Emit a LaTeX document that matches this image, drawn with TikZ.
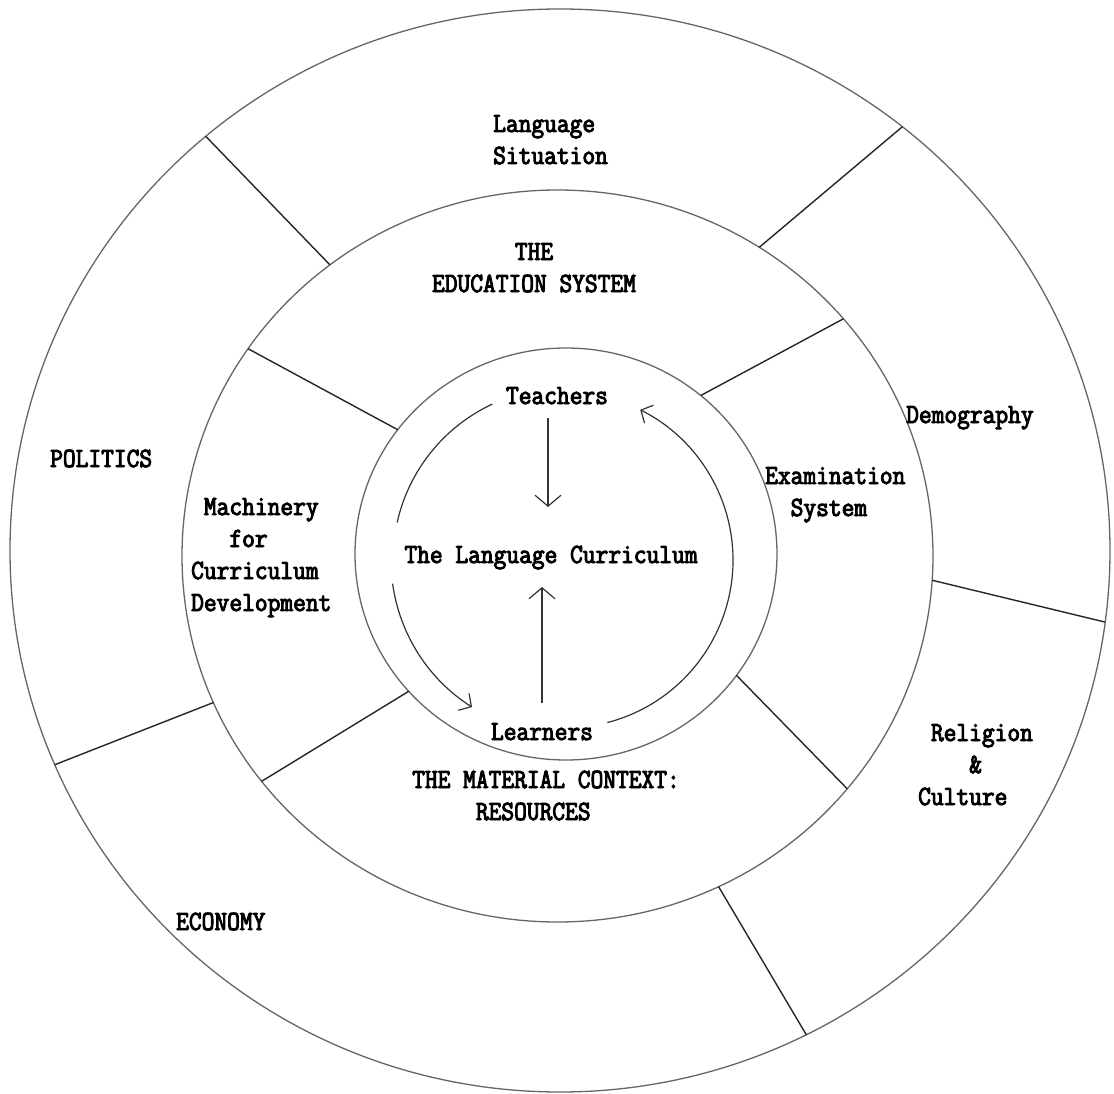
\documentclass[tikz,border=0pt]{standalone}
\usepackage{fontspec}
\usetikzlibrary{calc,arrows.meta}
\newfontfamily\typewriter[FakeStretch=0.89, FakeBold=3.5]{Latin Modern Mono}
\newcommand{\ind}[1]{\hphantom{#1}}
\begin{document}
\begin{tikzpicture}[x=1pt,y=-1pt,
  ring/.style={draw=black!60, line width=1.3pt},
  divider/.style={draw=black!85, line width=1.4pt},
  flow/.style={draw=black!80, line width=1.2pt, -{Straight Barb[length=11pt,width=26pt]}},
  curve/.style={draw=black!80, line width=1.2pt},
  curvetip/.style={curve, -{Straight Barb[length=9pt,width=20pt]}},
  txt/.style={inner sep=0pt, font=\typewriter\fontsize{27.8}{32}\selectfont}]

\fill[white] (0,0) rectangle (1114,1094);
\useasboundingbox (0,0) rectangle (1114,1094);

% centres of the three rings and of the inner cycle
\coordinate (Co) at (560,550.5);
\coordinate (Cm) at (557.5,556);
\coordinate (Ci) at (566,554);
\coordinate (Cc) at (565,560);

% rings
\draw[ring] (Co) ellipse [x radius=550, y radius=541.5];
\draw[ring] (Cm) ellipse [x radius=375.5, y radius=366];
\draw[ring] (Ci) ellipse [x radius=211, y radius=206];

% outer ring sectors
\foreach \a/\b in {229.9/232.7, 308.5/302.5, 7.6/3.8, 63.4/64.6, 156.7/156.4}
  \draw[divider] ($(Co)+(\a:550 and 541.5)$) -- ($(Cm)+(\b:375.5 and 366)$);
% middle ring sectors
\foreach \a/\b in {214.5/217.1, 319.6/309.7, 39.5/36.1, 142/138.2}
  \draw[divider] ($(Cm)+(\a:375.5 and 366)$) -- ($(Ci)+(\b:211 and 206)$);

% texts (multi-line nodes are anchored at the baseline of their last line)
\node[txt, anchor=base west, align=left] (langsit) at (493,164) {Language\\Situation};
\node[txt, anchor=base, align=center] (edusys) at (534,292) {THE\\EDUCATION SYSTEM};
\node[txt, anchor=base] (teachers) at (557,404) {Teachers};
\node[txt, anchor=base] (curric) at (551,563) {The Language Curriculum};
\node[txt, anchor=base] (learners) at (542,740) {Learners};
\node[txt, anchor=base west, align=left] (material) at (412,820) {THE MATERIAL CONTEXT:\\\ind{MMMMM}RESOURCES};
\node[txt, anchor=base west] (politics) at (50,467) {POLITICS};
\node[txt, anchor=base west, align=left] (machinery) at (191,611) {\ind{M}Machinery\\\ind{MMM}for\\Curriculum\\Development};
\node[txt, anchor=base west, align=left] (exam) at (765,516) {Examination\\\ind{MM}System};
\node[txt, anchor=base west] (demog) at (906,423) {Demography};
\node[txt, anchor=base west, align=left] (relig) at (918,805) {\ind{M}Religion\\\ind{MMMM}\&\\Culture};
\node[txt, anchor=base west] (economy) at (176,930) {ECONOMY};

% straight arrows into the curriculum
\coordinate (axisT) at (548,0);
\coordinate (axisL) at (542,0);
\draw[flow, shorten <=14pt, shorten >=56pt] (teachers.base -| axisT) -- (curric.base -| axisT);
\draw[flow, shorten <=37pt, shorten >=24pt] (learners.base -| axisL) -- (curric.base -| axisL);

% cycle between teachers and learners
\draw[curve] ($(Cc)+(245:172)$) arc[start angle=245, end angle=192.6, radius=172];
\draw[curvetip] ($(Cc)+(172.2:174)$) arc[start angle=172.2, end angle=122.3, radius=174];
\draw[curvetip] ($(Cc)+(75.4:168)$) arc[start angle=75.4, end angle=-63.4, radius=168];
\end{tikzpicture}
\end{document}
